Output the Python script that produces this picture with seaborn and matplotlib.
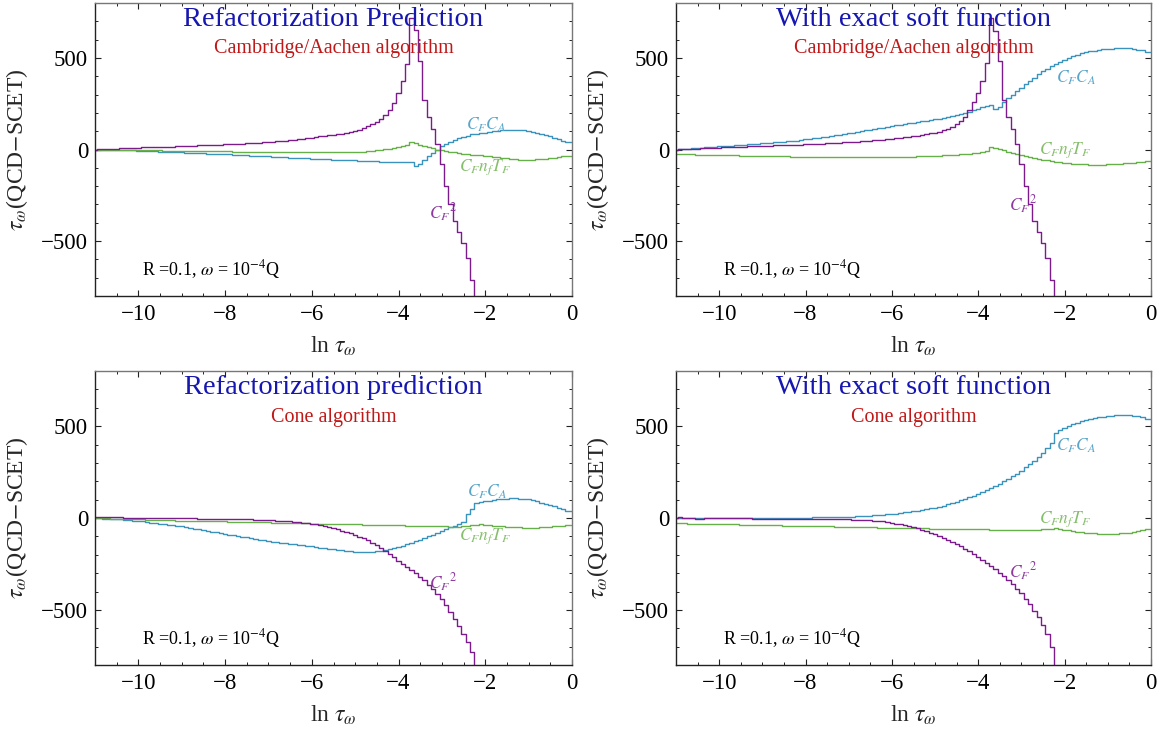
import numpy as np
import pandas as pd
import matplotlib
matplotlib.use("Agg")
import matplotlib.pyplot as plt
import seaborn as sns
from matplotlib.ticker import MultipleLocator

sns.set_theme(style="white")
plt.rcParams['font.family'] = ['Liberation Serif', 'DejaVu Serif']
plt.rcParams['mathtext.fontset'] = 'stix'
plt.rcParams['axes.unicode_minus'] = True

# ---------------- data: 110 bins of width 0.1 in ln(tau_omega), centred on -11.0, -10.9, ..., -0.1 ----------------
bin_left_edges = np.round(np.linspace(-11.05, -0.15, 110), 2)
x_end = 0.0

tail = [-1050, -1150, -1250, -1350, -1450, -1550, -1650, -1750, -1850, -1950,
        -2050, -2150, -2250, -2350, -2450, -2550, -2650, -2750, -2850, -2950]

# Cambridge/Aachen, refactorization prediction
ca_ref_cf2 = [0, 1, 2, 3, 4, 5, 6, 7, 8, 9,
              10, 11, 12, 12, 13, 14, 15, 16, 16, 17,
              18, 19, 20, 21, 22, 23, 24, 25, 26, 27,
              28, 29, 30, 31, 32, 33, 35, 36, 38, 39,
              41, 43, 45, 47, 49, 51, 54, 57, 60, 63,
              65, 68, 71, 74, 77, 80, 83, 87, 91, 96,
              102, 108, 116, 126, 138, 152, 168, 188, 215, 255,
              306, 375, 466, 720, 650, 484, 270, 180, 110, 30,
              -80, -200, -300, -390, -450, -510, -590, -710, -860, -960] + tail
ca_ref_cfca = [0, -1, -1, -2, -2, -3, -3, -4, -4, -5,
               -6, -7, -8, -9, -10, -11, -12, -13, -14, -15,
               -16, -17, -18, -19, -20, -21, -22, -23, -24, -25,
               -26, -27, -28, -30, -31, -32, -33, -35, -36, -37,
               -38, -39, -41, -42, -43, -44, -45, -46, -48, -49,
               -50, -51, -52, -53, -54, -55, -56, -57, -58, -59,
               -60, -61, -62, -63, -64, -65, -66, -66, -67, -68,
               -69, -69, -70, -70, -92, -78, -57, -38, -18, 0,
               18, 30, 42, 52, 61, 69, 76, 82, 86, 88,
               90, 95, 99, 102, 105, 106, 107, 107, 106, 104,
               101, 96, 90, 84, 78, 71, 63, 55, 47, 39]
ca_ref_nf = [0, -1, -1, -1, -2, -2, -2, -3, -3, -3,
             -4, -4, -4, -5, -5, -5, -6, -6, -6, -7,
             -7, -7, -8, -8, -8, -9, -9, -9, -10, -10,
             -10, -10, -11, -11, -11, -11, -12, -12, -12, -12,
             -12, -13, -13, -13, -13, -14, -14, -14, -14, -14,
             -14, -14, -14, -14, -14, -14, -14, -14, -14, -13,
             -13, -12, -11, -9, -7, -5, -2, 2, 5, 9,
             13, 18, 27, 40, 34, 27, 20, 12, 6, 0,
             -4, -8, -12, -16, -19, -22, -25, -28, -30, -32,
             -34, -37, -40, -43, -46, -49, -52, -54, -55, -56,
             -56, -55, -54, -52, -50, -47, -44, -41, -37, -34]

# Cambridge/Aachen, with exact soft function
ca_exact_cf2 = [0, 1, 2, 3, 4, 5, 6, 7, 8, 9,
                10, 11, 12, 13, 14, 15, 16, 17, 18, 19,
                20, 20, 21, 22, 23, 24, 25, 25, 26, 27,
                28, 29, 30, 31, 32, 33, 34, 36, 37, 39,
                40, 41, 43, 44, 46, 48, 50, 52, 54, 56,
                58, 61, 64, 67, 70, 73, 76, 80, 84, 88,
                92, 98, 105, 114, 125, 138, 155, 180, 215, 260,
                311, 375, 474, 720, 648, 484, 270, 180, 110, 30,
                -80, -200, -300, -390, -450, -510, -590, -710, -860, -960] + tail
ca_exact_cfca = [0, 2, 4, 5, 7, 9, 10, 12, 14, 15,
                 17, 18, 20, 21, 23, 25, 26, 28, 30, 31,
                 33, 35, 37, 39, 41, 43, 45, 47, 49, 52,
                 55, 58, 61, 64, 67, 70, 73, 77, 80, 84,
                 88, 92, 96, 100, 104, 108, 112, 116, 120, 125,
                 130, 133, 136, 139, 142, 145, 149, 153, 157, 161,
                 165, 169, 173, 178, 183, 189, 195, 201, 207, 214,
                 222, 230, 238, 245, 221, 234, 258, 280, 300, 318,
                 336, 356, 375, 393, 410, 426, 441, 455, 468, 480,
                 491, 501, 510, 518, 525, 531, 536, 540, 544, 547,
                 549, 551, 552, 553, 553, 552, 550, 546, 541, 535]
ca_exact_nf = [-25, -26, -26, -27, -27, -28, -28, -29, -29, -30,
               -30, -31, -31, -32, -32, -33, -33, -34, -34, -35,
               -35, -36, -36, -37, -37, -38, -38, -39, -39, -40,
               -40, -40, -41, -41, -41, -41, -42, -42, -42, -42,
               -42, -42, -42, -42, -42, -42, -42, -42, -42, -42,
               -42, -41, -41, -40, -40, -39, -38, -37, -36, -35,
               -34, -33, -32, -31, -30, -28, -27, -25, -23, -21,
               -17, -12, -6, 13, 7, 1, -5, -11, -17, -23,
               -29, -35, -40, -45, -50, -55, -59, -63, -67, -70,
               -73, -75, -77, -79, -80, -81, -82, -82, -82, -82,
               -81, -80, -79, -77, -75, -73, -71, -69, -67, -65]

# Cone, refactorization prediction
cone_ref_cf2 = [5, 5, 4, 4, 3, 3, 3, 2, 2, 2,
                2, 1, 1, 1, 0, 0, 0, 0, -1, -1,
                -1, -2, -2, -2, -3, -3, -3, -4, -4, -4,
                -5, -5, -6, -6, -7, -7, -8, -9, -10, -11,
                -12, -13, -14, -15, -17, -19, -21, -23, -26, -28,
                -31, -35, -39, -44, -50, -56, -62, -69, -76, -84,
                -92, -101, -111, -122, -134, -147, -162, -178, -195, -213,
                -232, -248, -265, -282, -300, -320, -340, -362, -386, -412,
                -440, -475, -510, -550, -590, -630, -675, -730, -810, -900] + tail
cone_ref_cfca = [-1, -2, -3, -4, -5, -7, -8, -10, -12, -14,
                 -16, -19, -22, -25, -28, -31, -34, -37, -40, -43,
                 -46, -50, -54, -58, -62, -66, -70, -74, -78, -82,
                 -86, -90, -94, -98, -102, -106, -110, -114, -118, -122,
                 -125, -128, -131, -134, -137, -140, -143, -146, -149, -152,
                 -155, -158, -161, -164, -167, -170, -173, -176, -179, -181,
                 -183, -184, -185, -185, -184, -182, -179, -175, -170, -164,
                 -158, -151, -143, -135, -127, -118, -109, -100, -90, -80,
                 -71, -61, -51, -41, -30, -20, 20, 50, 80, 88,
                 90, 95, 99, 102, 105, 106, 107, 107, 106, 104,
                 101, 96, 90, 84, 78, 71, 63, 55, 47, 39]
cone_ref_nf = [0, -1, -2, -2, -3, -4, -5, -5, -6, -7,
               -8, -8, -9, -10, -10, -11, -12, -12, -13, -14,
               -14, -15, -15, -16, -16, -17, -17, -18, -18, -19,
               -19, -20, -20, -21, -21, -22, -22, -23, -23, -24,
               -24, -25, -25, -26, -26, -27, -27, -28, -28, -29,
               -30, -30, -31, -31, -32, -32, -33, -33, -34, -34,
               -35, -35, -36, -36, -37, -37, -38, -38, -39, -39,
               -40, -40, -41, -41, -42, -42, -43, -43, -44, -44,
               -45, -46, -47, -48, -48, -46, -43, -40, -37, -35,
               -37, -39, -41, -43, -45, -47, -49, -50, -51, -52,
               -52, -52, -52, -51, -50, -48, -46, -44, -41, -38]

# Cone, with exact soft function
cone_exact_cf2 = [2, 3, 2, 1, 0, -5, -3, -1, 0, -1,
                  -1, -1, -1, -2, -2, -2, -2, -2, -3, -3,
                  -3, -3, -3, -4, -4, -4, -4, -4, -5, -5,
                  -5, -5, -5, -6, -6, -6, -7, -7, -7, -8,
                  -8, -9, -10, -11, -12, -13, -15, -17, -19, -22,
                  -26, -30, -34, -39, -44, -50, -56, -63, -71, -79,
                  -88, -98, -108, -119, -130, -142, -155, -168, -182, -197,
                  -212, -228, -245, -262, -280, -299, -318, -338, -360, -384,
                  -410, -440, -470, -505, -540, -580, -630, -700, -810, -900,
                  -990, -1080, -1170, -1260, -1350, -1440, -1530, -1620, -1710, -1800,
                  -1890, -1980, -2070, -2160, -2250, -2340, -2430, -2520, -2610, -2700]
cone_exact_cfca = [1, 1, 1, 1, 0, 0, 0, 0, 0, 0,
                   0, 0, 0, 0, 0, 0, 0, 0, 0, 0,
                   0, 0, 0, 1, 1, 1, 1, 1, 2, 2,
                   2, 2, 3, 3, 3, 4, 4, 5, 5, 6,
                   7, 8, 9, 10, 11, 12, 14, 16, 18, 20,
                   22, 24, 27, 30, 33, 36, 40, 44, 48, 52,
                   57, 62, 68, 74, 81, 88, 96, 104, 113, 122,
                   132, 142, 152, 163, 174, 186, 199, 212, 226, 241,
                   257, 275, 293, 312, 332, 355, 380, 410, 465, 480,
                   492, 502, 511, 519, 526, 532, 538, 543, 547, 551,
                   554, 557, 559, 560, 560, 559, 557, 553, 547, 538]
cone_exact_nf = [-28, -29, -29, -30, -30, -31, -31, -32, -32, -33,
                 -33, -34, -34, -35, -35, -36, -36, -37, -37, -38,
                 -38, -39, -39, -40, -40, -41, -41, -42, -42, -43,
                 -43, -44, -44, -45, -45, -46, -46, -47, -47, -48,
                 -48, -49, -49, -50, -50, -51, -51, -52, -52, -53,
                 -53, -54, -54, -55, -55, -56, -56, -57, -57, -58,
                 -58, -59, -59, -59, -60, -60, -60, -61, -61, -61,
                 -62, -62, -62, -63, -63, -63, -64, -64, -64, -65,
                 -65, -65, -64, -64, -63, -62, -61, -59, -56, -60,
                 -64, -68, -72, -75, -78, -80, -82, -84, -85, -86,
                 -86, -86, -85, -84, -82, -79, -76, -72, -67, -62]

titles = ["Refactorization Prediction", "With exact soft function",
          "Refactorization prediction", "With exact soft function"]
subtitles = ["Cambridge/Aachen algorithm", "Cambridge/Aachen algorithm",
             "Cone algorithm", "Cone algorithm"]
annotation = r"R =0.1, $\omega$ = 10$^{-4}$Q"
series_labels = [r"$C_F{}^2$", r"$C_F C_A$", r"$C_F n_f T_F$"]

panels = [
    (ca_ref_cf2, ca_ref_cfca, ca_ref_nf),
    (ca_exact_cf2, ca_exact_cfca, ca_exact_nf),
    (cone_ref_cf2, cone_ref_cfca, cone_ref_nf),
    (cone_exact_cf2, cone_exact_cfca, cone_exact_nf),
]
# label anchor positions (data coords) for CF^2, CFCA, CFnfTF
label_pos = [
    [(-3.29, -345), (-2.44, 136), (-2.61, -96)],
    [(-3.28, -300), (-2.21, 389), (-2.59, -5)],
    [(-3.29, -352), (-2.41, 142), (-2.61, -100)],
    [(-3.28, -295), (-2.21, 391), (-2.59, -7)],
]

line_colors = ["#7b1c8c", "#3a93bd", "#66b04a"]
label_colors = ["#8e3aa0", "#5aa6c9", "#86bf6c"]

W, H = 1164, 734
fig = plt.figure(figsize=(W / 100, H / 100), dpi=100)
fig.patch.set_facecolor("white")

boxes = [(95, 572, 3, 296), (676, 1151, 3, 296), (95, 572, 371, 665), (676, 1151, 371, 665)]
x_steps = list(bin_left_edges) + [x_end]

for i, (l, r, t, b) in enumerate(boxes):
    ax = fig.add_axes([l / W, 1 - b / H, (r - l) / W, (b - t) / H])
    ax.set_facecolor("white")
    cf2, cfca, nf = panels[i]
    order = [(1, cfca), (2, nf), (0, cf2)]
    for k, vals in order:
        # histogram outline: each bin value held from its left edge to the next edge
        df = pd.DataFrame({"x": x_steps, "y": list(vals) + [vals[-1]]})
        sns.lineplot(data=df, x="x", y="y", estimator=None, sort=False,
                     drawstyle="steps-post", color=line_colors[k], linewidth=1.0, ax=ax)
    ax.set_xlim(-11, 0)
    ax.set_ylim(-800, 800)
    ax.xaxis.set_major_locator(MultipleLocator(2))
    ax.xaxis.set_minor_locator(MultipleLocator(0.5))
    ax.yaxis.set_major_locator(MultipleLocator(500))
    ax.yaxis.set_minor_locator(MultipleLocator(100))
    ax.tick_params(which="both", direction="in", top=True, right=True,
                   bottom=True, left=True, colors="#222222", labelcolor="black")
    ax.tick_params(which="major", length=4.5, width=0.8, labelsize=16.5)
    ax.tick_params(axis="x", which="major", pad=6)
    ax.tick_params(axis="y", which="major", pad=5)
    ax.tick_params(which="minor", length=2.3, width=0.7)
    for side, sp in ax.spines.items():
        sp.set_color("#222222" if side in ("left", "bottom") else "#777777")
        sp.set_linewidth(1.0)
    ax.set_xlabel(r"ln $\tau_\omega$", fontsize=17, labelpad=7)
    ax.set_ylabel(r"$\tau_\omega$(QCD$-$SCET)", fontsize=17, labelpad=8)
    ax.text(0.5, 0.922, titles[i], transform=ax.transAxes, ha="center", va="baseline",
            fontsize=20.5, color="#1616b0")
    ax.text(0.5, 0.828, subtitles[i], transform=ax.transAxes, ha="center", va="baseline",
            fontsize=14.5, color="#c01818")
    ax.text(-9.92, -658, annotation, ha="left", va="center", fontsize=13, color="black")
    for k in range(3):
        x0, y0 = label_pos[i][k]
        ax.text(x0, y0, series_labels[k], ha="left", va="center", fontsize=12.5,
                color=label_colors[k])
    ax.grid(False)

fig.savefig("out.png", dpi=100, facecolor="white")
